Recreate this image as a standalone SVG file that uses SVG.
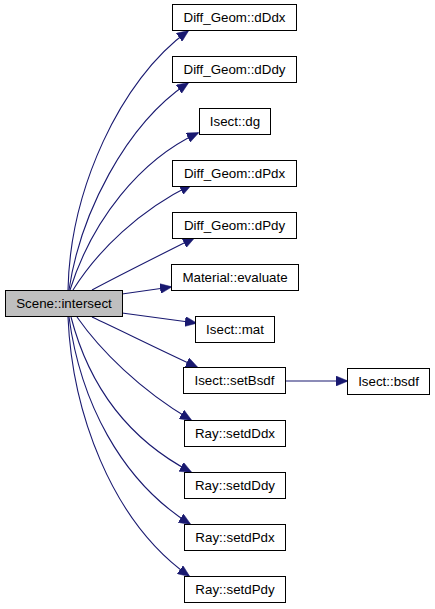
<svg xmlns="http://www.w3.org/2000/svg" width="435" height="609" viewBox="0 0 435 609">
<style>
.n rect{fill:#ffffff;stroke:#000000;stroke-width:1}
.root rect{fill:#bfbfbf}
.n text{font-family:"Liberation Sans",Arial,sans-serif;font-size:13.33px;fill:#000000;text-anchor:middle}
.e path{fill:none;stroke:#191970;stroke-width:1.1}
</style>
<defs>
<marker id="ah" viewBox="0 0 12 10" refX="11" refY="5" markerWidth="12" markerHeight="10" markerUnits="userSpaceOnUse" orient="auto">
<path d="M0,0 L12,5 L0,10 Z" fill="#191970" stroke="#191970" stroke-width="0.5"/>
</marker>
</defs>
<rect width="435" height="609" fill="#ffffff"/>
<g id="edges" class="e">
<path marker-end="url(#ah)" d="M68,290 C70,190 120,80 188,31"/>
<path marker-end="url(#ah)" d="M69,290 C80,215 125,125 188,83"/>
<path marker-end="url(#ah)" d="M70,290 C92,220 140,160 198,133"/>
<path marker-end="url(#ah)" d="M73,290 C98,250 140,210 191,185"/>
<path marker-end="url(#ah)" d="M92,290 C120,275 160,255 194,238"/>
<path marker-end="url(#ah)" d="M122,294 L171,287"/>
<path marker-end="url(#ah)" d="M122,313 L196,323"/>
<path marker-end="url(#ah)" d="M92,317 C120,330 160,350 197,367"/>
<path marker-end="url(#ah)" d="M77,317 C100,350 140,390 191,420"/>
<path marker-end="url(#ah)" d="M71,317 C90,390 130,440 191,472"/>
<path marker-end="url(#ah)" d="M69,317 C80,400 120,480 190,524"/>
<path marker-end="url(#ah)" d="M68,317 C72,410 110,520 189,576"/>
<path marker-end="url(#ah)" d="M285,381 L347,381"/>
</g>
<g id="scene_intersect" class="n root"><rect x="5.5" y="290.5" width="117" height="26"/><text x="64" y="308">Scene::intersect</text></g>
<g id="dDdx" class="n"><rect x="172.5" y="4.5" width="124" height="26"/><text x="234.5" y="22">Diff_Geom::dDdx</text></g>
<g id="dDdy" class="n"><rect x="172.5" y="56.5" width="124" height="26"/><text x="234.5" y="74">Diff_Geom::dDdy</text></g>
<g id="dg" class="n"><rect x="199.5" y="108.5" width="71" height="26"/><text x="235" y="126">Isect::dg</text></g>
<g id="dPdx" class="n"><rect x="172.5" y="160.5" width="124" height="26"/><text x="234.5" y="178">Diff_Geom::dPdx</text></g>
<g id="dPdy" class="n"><rect x="172.5" y="212.5" width="124" height="26"/><text x="234.5" y="230">Diff_Geom::dPdy</text></g>
<g id="evaluate" class="n"><rect x="171.5" y="264.5" width="127" height="26"/><text x="235" y="282">Material::evaluate</text></g>
<g id="mat" class="n"><rect x="195.5" y="316.5" width="79" height="26"/><text x="235" y="334">Isect::mat</text></g>
<g id="setBsdf" class="n"><rect x="183.5" y="367.5" width="102" height="26"/><text x="234.5" y="385">Isect::setBsdf</text></g>
<g id="bsdf" class="n"><rect x="347.5" y="368.5" width="82" height="26"/><text x="388.5" y="386">Isect::bsdf</text></g>
<g id="setdDdx" class="n"><rect x="184.5" y="420.5" width="101" height="26"/><text x="235" y="438">Ray::setdDdx</text></g>
<g id="setdDdy" class="n"><rect x="184.5" y="472.5" width="101" height="26"/><text x="235" y="490">Ray::setdDdy</text></g>
<g id="setdPdx" class="n"><rect x="184.5" y="524.5" width="101" height="26"/><text x="235" y="542">Ray::setdPdx</text></g>
<g id="setdPdy" class="n"><rect x="184.5" y="576.5" width="101" height="26"/><text x="235" y="594">Ray::setdPdy</text></g>
</svg>
